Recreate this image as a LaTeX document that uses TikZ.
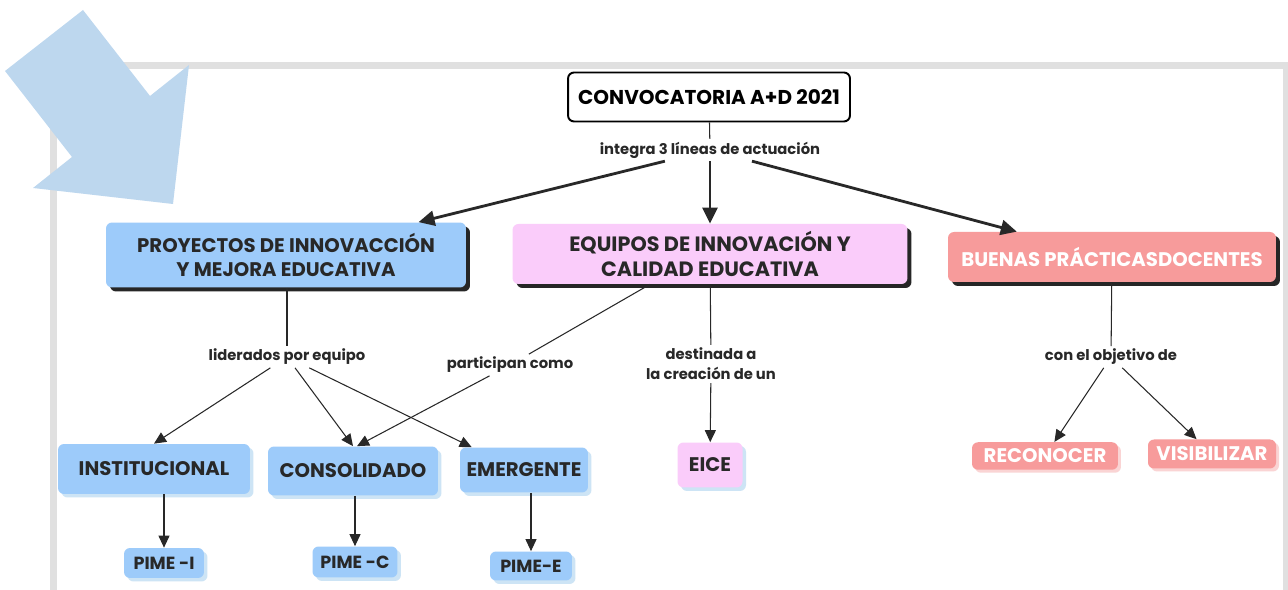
\documentclass[tikz,border=0pt]{standalone}
\usepackage{fontspec}
\setmainfont{Poppins}
\usetikzlibrary{arrows.meta,positioning,shadows}
\definecolor{azul}{RGB}{157,203,250}
\definecolor{azulsombra}{RGB}{205,228,245}
\definecolor{rosa}{RGB}{250,204,250}
\definecolor{salmon}{RGB}{247,155,155}
\definecolor{salmonsombra}{RGB}{250,212,212}
\definecolor{flecha}{RGB}{189,215,238}
\definecolor{texto}{RGB}{40,40,40}

\begin{document}
\begin{tikzpicture}[
    x=0.02cm, y=-0.02cm,
    font=\bfseries\fontsize{11.2}{13.8}\selectfont,
    caja/.style={
        rounded corners=1.2mm,
        inner sep=0pt,
        align=center,
        text=texto
    },
    grande/.style={
        caja,
        general shadow={fill=black!85, shadow xshift=0.8mm, shadow yshift=-0.8mm}
    },
    chica/.style={
        caja, fill=azul,
        general shadow={fill=azulsombra, shadow xshift=0.7mm, shadow yshift=-0.7mm}
    },
    pime/.style={chica, font=\bfseries\fontsize{10}{12}\selectfont},
    etiqueta/.style={
        inner sep=1.5pt,
        align=center,
        text=texto,
        font=\bfseries\fontsize{8.4}{10.5}\selectfont
    },
    enlace/.style={draw=texto, line width=0.6pt},
    flechita/.style={enlace, -{Triangle[length=2.4mm,width=2.2mm]}},
    flechota/.style={draw=texto, line width=1.6pt, -{Triangle[length=3.2mm,width=3mm]}}
]
\useasboundingbox (0,0) rectangle (1288,590);

% marco
\fill[black!12] (50,62) rectangle (1288,590);
\fill[white] (57,69) rectangle (1283,590);

% nodos principales
\node[caja, draw=black, line width=1.1pt, fill=white, minimum width=5.64cm, minimum height=0.98cm,
    font=\bfseries\fontsize{11.4}{13}\selectfont, text=black] (conv) at (709,97) {CONVOCATORIA A+D 2021};
\node[etiqueta] (lint) at (710,150) {integra 3 líneas de actuación};

\node[grande, fill=azul, minimum width=7.2cm, minimum height=1.3cm] (proy) at (286,255)
    {PROYECTOS DE INNOVACCIÓN\\Y MEJORA EDUCATIVA};
\node[grande, fill=rosa, minimum width=7.9cm, minimum height=1.2cm,
    font=\bfseries\fontsize{11.8}{13.8}\selectfont] (equi) at (710,254)
    {EQUIPOS DE INNOVACIÓN Y\\CALIDAD EDUCATIVA};
\node[grande, fill=salmon, text=white, minimum width=6.56cm, minimum height=1cm] (buen) at (1112,257)
    {BUENAS PRÁCTICASDOCENTES};

% etiquetas
\node[etiqueta] (llid) at (287,357) {liderados por equipo};
\node[etiqueta] (lpar) at (510,365) {participan como};
\node[etiqueta, font=\bfseries\fontsize{8.4}{11.5}\selectfont] (ldes) at (711,364) {destinada a\\la creación de un};
\node[etiqueta] (lobj) at (1111,357) {con el objetivo de};

% nodos inferiores
\node[chica, minimum width=3.84cm, minimum height=1cm] (inst) at (154,469) {INSTITUCIONAL};
\node[chica, minimum width=3.4cm, minimum height=0.98cm] (cons) at (353,471) {CONSOLIDADO};
\node[chica, minimum width=2.56cm, minimum height=0.9cm] (emer) at (524,470) {EMERGENTE};
\node[pime, minimum width=1.6cm, minimum height=0.6cm] (pimei) at (164,563) {PIME -I};
\node[pime, minimum width=1.7cm, minimum height=0.62cm] (pimec) at (355,562) {PIME -C};
\node[pime, minimum width=1.64cm, minimum height=0.58cm] (pimee) at (531,566) {PIME-E};
\node[caja, fill=rosa, minimum width=1.3cm, minimum height=0.9cm,
    general shadow={fill=azulsombra, shadow xshift=0.7mm, shadow yshift=-0.7mm}] (eice) at (710,465) {EICE};
\node[caja, fill=salmon, text=white, minimum width=2.92cm, minimum height=0.55cm,
    general shadow={fill=salmonsombra, shadow xshift=0.6mm, shadow yshift=-0.6mm}] (reco) at (1045,456) {RECONOCER};
\node[caja, fill=salmon, text=white, minimum width=2.56cm, minimum height=0.58cm,
    general shadow={fill=salmonsombra, shadow xshift=0.6mm, shadow yshift=-0.6mm}] (visi) at (1212,454) {VISIBILIZAR};

% conexiones
\draw[enlace] (conv) -- (lint);
\draw[flechota] (lint) -- (proy);
\draw[flechota] (lint) -- (equi);
\draw[flechota] (lint) -- (buen);

\draw[enlace] (proy.south -| llid) -- (llid);
\draw[flechita] (llid) -- (inst.north);
\draw[flechita] (llid) -- (cons.north);
\draw[flechita] (llid) -- ([xshift=0.24cm]emer.north west);

\draw[enlace] ([xshift=-1.2cm]equi.south) -- (lpar);
\draw[flechita] (lpar) -- ([xshift=0.08cm]cons.north);
\draw[enlace] (equi) -- (ldes);
\draw[flechita] (ldes) -- (eice);

\draw[enlace] (buen) -- (lobj);
\draw[flechita] (lobj) -- (reco);
\draw[flechita] (lobj) -- (visi);

\draw[flechita] (pimei |- inst.south) -- (pimei);
\draw[flechita] (pimec |- cons.south) -- (pimec);
\draw[flechita] (pimee |- emer.south) -- (pimee);

% flecha grande
\fill[flecha] (83,10) -- (150,96) -- (189,65) -- (173,204) -- (33,188) -- (72,157) -- (5,71) -- cycle;
\end{tikzpicture}
\end{document}
